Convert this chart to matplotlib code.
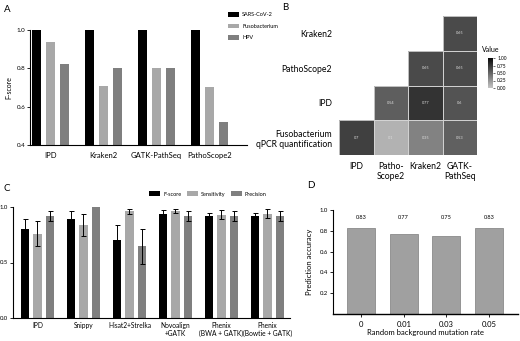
import numpy as np
import matplotlib
matplotlib.use("Agg")
import matplotlib.pyplot as plt
from matplotlib.colors import LinearSegmentedColormap
from matplotlib.patches import Rectangle

plt.rcParams['font.family'] = ['Lato', 'DejaVu Sans']

# ---------------- data ----------------
# Panel A
a_tools = ["IPD", "Kraken2", "GATK-PathSeq", "PathoScope2"]
a_series = ["SARS-CoV-2", "Fusobacterium", "HPV"]
a_sars = [1.0, 1.0, 1.0, 1.0]
a_fuso = [0.935, 0.71, 0.80, 0.705]
a_hpv = [0.825, 0.80, 0.80, 0.52]

# Panel B
b_rows = ["Kraken2", "PathoScope2", "IPD", "Fusobacterium\nqPCR quantification"]
b_cols = ["IPD", "Patho-\nScope2", "Kraken2", "GATK-\nPathSeq"]
b_row_kraken = [None, None, None, 0.65]
b_row_patho = [None, None, 0.65, 0.65]
b_row_ipd = [None, 0.54, 0.77, 0.6]
b_row_fuso = [0.7, 0.1, 0.35, 0.53]

# Panel C
c_tools = ["IPD", "Snippy", "Hisat2+Strelka", "Novoalign\n+GATK",
           "Phenix\n(BWA + GATK)", "Phenix\n(Bowtie + GATK)"]
c_series = ["F-score", "Sensitivity", "Precision"]
c_f = [0.80, 0.89, 0.70, 0.94, 0.92, 0.92]
c_f_err = [0.09, 0.07, 0.14, 0.03, 0.03, 0.03]
c_sens = [0.76, 0.84, 0.96, 0.965, 0.93, 0.94]
c_sens_err = [0.11, 0.10, 0.02, 0.02, 0.04, 0.04]
c_prec = [0.92, 1.0, 0.645, 0.92, 0.915, 0.915]
c_prec_err = [0.045, 0.0, 0.16, 0.045, 0.045, 0.045]

# Panel D
d_rates = ["0", "0.01", "0.03", "0.05"]
d_acc = [0.83, 0.77, 0.75, 0.83]

# ---------------- figure ----------------
W, H = 520, 341
fig = plt.figure(figsize=(W / 100, H / 100), dpi=100)
fig.patch.set_facecolor("white")


def ax_px(l, t, r, b):
    return fig.add_axes([l / W, 1 - b / H, (r - l) / W, (b - t) / H])


def clean(ax):
    ax.spines['top'].set_visible(False)
    ax.spines['right'].set_visible(False)
    for s in ['left', 'bottom']:
        ax.spines[s].set_linewidth(0.8)
    ax.tick_params(width=0.6, length=2, pad=1.5)


BLACK = "#000000"
LIGHT = "#a8a8a8"
MID = "#7f7f7f"

# ---------------- Panel A ----------------
axA = ax_px(30, 30, 247, 145)
x = np.arange(len(a_tools))
bw = 0.17
off = 0.265
axA.bar(x - off, a_sars, bw, color=BLACK, label=a_series[0])
axA.bar(x, a_fuso, bw, color=LIGHT, label=a_series[1])
axA.bar(x + off, a_hpv, bw, color=MID, label=a_series[2])
axA.set_ylim(0.4, 1.0)
axA.set_xlim(-0.39, 3.71)
axA.set_yticks([0.4, 0.6, 0.8, 1.0])
axA.set_yticklabels(["0.4", "0.6", "0.8", "1.0"], fontsize=4.5)
axA.set_xticks(x)
axA.set_xticklabels(a_tools, fontsize=5.5)
axA.set_ylabel("F-score", fontsize=5, labelpad=3)
clean(axA)
axA.tick_params(axis='x', length=0, pad=5)
axA.legend(loc="upper left", bbox_to_anchor=(226 / W, 1 - 10 / H), bbox_transform=fig.transFigure,
           frameon=False, fontsize=4.0, handlelength=2.0, handleheight=0.9,
           labelspacing=1.1, handletextpad=0.5, borderaxespad=0)

# ---------------- Panel B ----------------
axB = ax_px(339, 16, 477, 155)
mat = np.array([[np.nan if v is None else v for v in r]
                for r in [b_row_kraken, b_row_patho, b_row_ipd, b_row_fuso]])
cmap = LinearSegmentedColormap.from_list("g", ["#c4c4c4", "#080808"])
masked = np.ma.masked_invalid(mat)
mesh = axB.pcolormesh(np.arange(5), np.arange(5), masked, cmap=cmap, vmin=0, vmax=1,
                      linewidth=0)
axB.set_xlim(0, 4)
axB.set_ylim(4, 0)
for i in range(4):
    for j in range(4):
        v = mat[i, j]
        if not np.isnan(v):
            axB.add_patch(Rectangle((j, i), 1, 1, fill=False, edgecolor="#d4d4d4", linewidth=0.6))
            axB.text(j + 0.5, i + 0.5, f"{v:g}", ha="center", va="center",
                     fontsize=2.8, color="#dddddd")
for s in axB.spines.values():
    s.set_visible(False)
axB.set_xticks(np.arange(4) + 0.5)
axB.set_xticklabels(b_cols, fontsize=6.2)
axB.set_yticks(np.arange(4) + 0.5)
axB.set_yticklabels(b_rows, fontsize=6.2, multialignment="right")
axB.tick_params(length=0, pad=5)

cax = ax_px(488, 58, 493, 88)
cb = fig.colorbar(mesh, cax=cax, ticks=[0, 0.25, 0.5, 0.75, 1.0])
cb.ax.set_yticklabels(["0.00", "0.25", "0.50", "0.75", "1.00"], fontsize=3.5)
cb.ax.tick_params(length=1.5, width=0.4, pad=1.5)
cb.outline.set_visible(False)
fig.text(491 / W, 1 - 49 / H, "Value", fontsize=5, ha="center", va="center")

# ---------------- Panel C ----------------
axC = ax_px(13, 207, 290, 318)
xc = np.arange(len(c_tools))
bwc = 0.18
offc = 0.272
ekw = dict(elinewidth=0.7, capthick=0.7)
axC.bar(xc - offc, c_f, bwc, yerr=c_f_err, capsize=1.8, color=BLACK, label=c_series[0], error_kw=ekw)
axC.bar(xc, c_sens, bwc, yerr=c_sens_err, capsize=1.8, color=LIGHT, label=c_series[1], error_kw=ekw)
perr = [e if e > 0 else np.nan for e in c_prec_err]
axC.bar(xc + offc, c_prec, bwc, yerr=perr, capsize=1.8, color=MID, label=c_series[2], error_kw=ekw)
axC.set_ylim(0, 1.0)
axC.set_xlim(-0.53, 5.49)
axC.set_yticks([0.0, 0.5, 1.0])
axC.set_yticklabels(["0.0", "0.5", "1.0"], fontsize=4.3)
axC.set_xticks(xc)
axC.set_xticklabels(c_tools, fontsize=4.8, linespacing=1.1)
clean(axC)
axC.tick_params(axis='x', length=0, pad=3)
axC.legend(loc="center left", bbox_to_anchor=(147 / W, 1 - 194 / H), bbox_transform=fig.transFigure,
           frameon=False, fontsize=4.0, ncol=3, handlelength=2.0, handleheight=0.8,
           columnspacing=1.0, handletextpad=0.5, borderaxespad=0)

# ---------------- Panel D ----------------
axD = ax_px(333, 210, 518, 314)
xd = np.arange(len(d_rates))
axD.bar(xd, d_acc, 0.66, color="#a0a0a0", edgecolor="#8a8a8a", linewidth=0.6)
for xi, v in zip(xd, d_acc):
    axD.text(xi, 0.93, f"{v:.2f}", ha="center", va="center", fontsize=4)
axD.set_ylim(0, 1.0)
axD.set_xlim(-0.66, 3.68)
axD.set_yticks([0.2, 0.4, 0.6, 0.8, 1.0])
axD.set_yticklabels(["0.2", "0.4", "0.6", "0.8", "1.0"], fontsize=4.3)
axD.set_xticks(xd)
axD.set_xticklabels(d_rates, fontsize=5.5)
clean(axD)
axD.spines['bottom'].set_linewidth(1.0)
axD.tick_params(axis='x', length=2, pad=3)
axD.set_xlabel("Random background mutation rate", fontsize=5.5, labelpad=1)
axD.set_ylabel("Prediction accuracy", fontsize=5.5, labelpad=5)

# ---------------- panel letters ----------------
for lab, px, py in [("A", 4, 9), ("B", 282, 7), ("C", 4, 189), ("D", 307, 186)]:
    fig.text(px / W, 1 - py / H, lab, fontsize=7, ha="left", va="center")

fig.savefig("out.png", dpi=100, facecolor="white")
